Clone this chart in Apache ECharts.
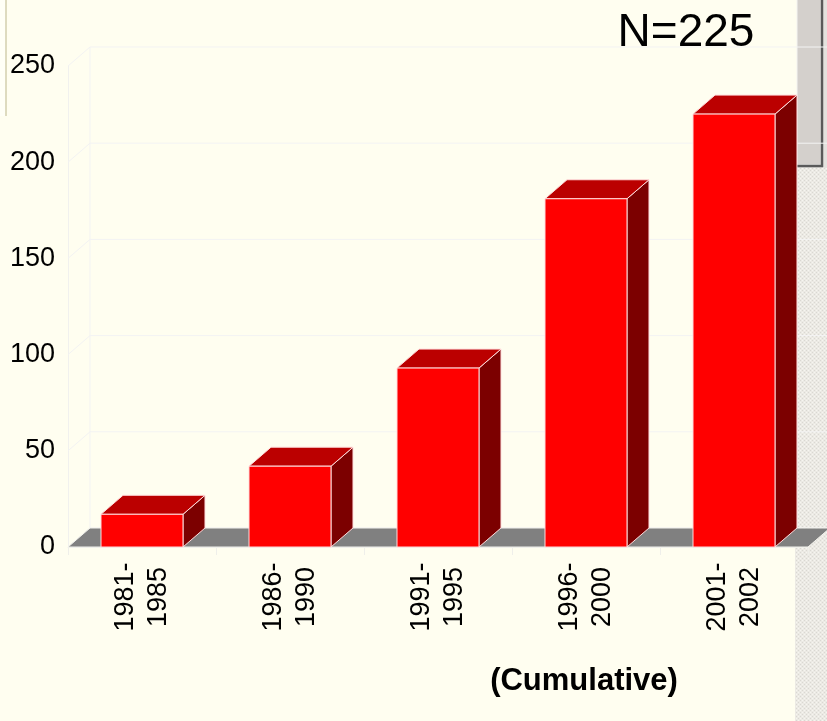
<!DOCTYPE html>
<html>
<head>
<meta charset="utf-8">
<script src="https://cdn.jsdelivr.net/npm/echarts@6/dist/echarts.min.js"></script>
<style>
  html, body { margin: 0; padding: 0; background: #FFFEF0; }
  #chart { width: 827px; height: 721px; }
</style>
</head>
<body>
<div id="chart"></div>
<script>
// Period buckets (two-line labels) and cumulative counts per period
const categories = ['1981-\n1985', '1986-\n1990', '1991-\n1995', '1996-\n2000', '2001-\n2002'];
const counts = [17, 42, 93, 181, 225];
const yTicks = [0, 50, 100, 150, 200, 250];

// 3D depth offset of the back wall (pixels)
const DX = 22, DY = -19;
const BAR_RATIO = 0.554;

const chart = echarts.init(document.getElementById('chart'), null, { renderer: 'canvas' });

// small stipple tile for the side panel
function stipple() {
  const c = document.createElement('canvas');
  c.width = 4; c.height = 4;
  const g = c.getContext('2d');
  g.fillStyle = '#ECEAE4'; g.fillRect(0, 0, 4, 4);
  g.fillStyle = '#DAD8D2';
  g.fillRect(0, 0, 1, 1); g.fillRect(2, 2, 1, 1);
  g.fillStyle = '#F6F5F0';
  g.fillRect(2, 0, 1, 1); g.fillRect(0, 2, 1, 1);
  return c;
}

function bandEdges(api) {
  const bw = api.size([1, 0])[0];
  const first = api.coord([0, 0]);
  const last = api.coord([categories.length - 1, 0]);
  return { bw: bw, x0: first[0] - bw / 2, x1: last[0] + bw / 2, y0: first[1] };
}

const option = {
  backgroundColor: '#FFFEF0',
  animation: false,
  grid: { left: 68, right: 19, top: 66, bottom: 174, containLabel: false },
  xAxis: {
    type: 'category',
    data: categories,
    axisLine: { show: true, lineStyle: { color: '#EFEFEA', width: 1 } },
    axisTick: { show: true, length: 8, lineStyle: { color: '#EFEFEA' } },
    axisLabel: {
      interval: 0,
      rotate: 90,
      align: 'center',
      verticalAlign: 'middle',
      margin: 50,
      color: '#000',
      fontFamily: 'Liberation Sans, Arial, sans-serif',
      fontSize: 27,
      lineHeight: 33
    }
  },
  yAxis: {
    type: 'value',
    min: 0,
    max: 250,
    interval: 50,
    axisLine: { show: true, lineStyle: { color: '#F1F1EE', width: 1 } },
    axisTick: { show: false },
    splitLine: { show: false },
    axisLabel: {
      margin: 13,
      color: '#000',
      fontFamily: 'Liberation Sans, Arial, sans-serif',
      fontSize: 27
    }
  },
  graphic: [
    // left edge frame
    { type: 'rect', z: 0, shape: { x: -2, y: -2, width: 8, height: 118 },
      style: { fill: '#FFFFF6' } },
    { type: 'line', z: 0, shape: { x1: 6, y1: 0, x2: 6, y2: 116 },
      style: { stroke: '#D3CFAE', lineWidth: 1.5 } },
    // right side panel: button block and stippled strip
    { type: 'rect', z: 0, shape: { x: 795, y: 167, width: 40, height: 560 },
      style: { fill: { image: stipple(), repeat: 'repeat' } } },
    { type: 'rect', z: 0, shape: { x: 797, y: -2, width: 30, height: 170 },
      style: { fill: '#E4E2DE' } },
    { type: 'rect', z: 0, shape: { x: 797, y: -2, width: 24, height: 167 },
      style: { fill: '#D4D0CC', stroke: '#F4F4F2', lineWidth: 1 } },
    { type: 'line', z: 0, shape: { x1: 822, y1: -2, x2: 822, y2: 167 },
      style: { stroke: '#5A5A5A', lineWidth: 2.5 } },
    { type: 'line', z: 0, shape: { x1: 797, y1: 166, x2: 823, y2: 166 },
      style: { stroke: '#5A5A5A', lineWidth: 2.5 } },
    // headline count and footnote
    { type: 'text', z: 10, x: 686, y: 33,
      style: { text: 'N=' + counts[counts.length - 1], fill: '#000',
        font: '46px "Liberation Sans", Arial, sans-serif', align: 'center', verticalAlign: 'middle' } },
    { type: 'text', z: 10, x: 584, y: 681,
      style: { text: '(Cumulative)', fill: '#000',
        font: 'bold 31px "Liberation Sans", Arial, sans-serif', align: 'center', verticalAlign: 'middle' } }
  ],
  series: [
    {
      // back wall gridlines with their diagonal leaders to the front axis
      type: 'custom',
      z: 1,
      silent: true,
      data: yTicks.map(function (v) { return [0, v]; }),
      renderItem: function (params, api) {
        const e = bandEdges(api);
        const y = api.coord([0, api.value(1)])[1];
        const children = [{
          type: 'polyline',
          shape: { points: [[e.x0, y], [e.x0 + DX, y + DY], [api.getWidth() + 5, y + DY]] },
          style: { stroke: '#F3F3F3', lineWidth: 1, fill: null }
        }];
        if (params.dataIndex === 0) {
          const yTop = api.coord([0, yTicks[yTicks.length - 1]])[1];
          children.push({
            type: 'line',
            shape: { x1: e.x0 + DX, y1: e.y0 + DY, x2: e.x0 + DX, y2: yTop + DY },
            style: { stroke: '#F3F3F3', lineWidth: 1 }
          });
        }
        return { type: 'group', children: children };
      }
    },
    {
      // grey floor slab
      type: 'custom',
      z: 2,
      silent: true,
      data: [[0, 0]],
      renderItem: function (params, api) {
        const e = bandEdges(api);
        return {
          type: 'polygon',
          shape: { points: [[e.x0, e.y0], [e.x1, e.y0], [e.x1 + DX, e.y0 + DY], [e.x0 + DX, e.y0 + DY]] },
          style: { fill: '#808080', stroke: '#F2F2EC', lineWidth: 1 }
        };
      }
    },
    {
      // 3D boxes: front, top and right faces
      type: 'custom',
      z: 3,
      data: counts.map(function (v, i) { return [i, v]; }),
      renderItem: function (params, api) {
        const base = api.coord([api.value(0), 0]);
        const top = api.coord([api.value(0), api.value(1)]);
        const w = api.size([1, 0])[0] * BAR_RATIO;
        const l = base[0] - w / 2, r = base[0] + w / 2;
        const yb = base[1], yt = top[1];
        const edge = { stroke: '#FFDCDC', lineWidth: 1 };
        return {
          type: 'group',
          children: [
            { type: 'polygon',
              shape: { points: [[r, yb], [r + DX, yb + DY], [r + DX, yt + DY], [r, yt]] },
              style: Object.assign({ fill: '#7C0000' }, edge) },
            { type: 'polygon',
              shape: { points: [[l, yt], [r, yt], [r + DX, yt + DY], [l + DX, yt + DY]] },
              style: Object.assign({ fill: '#BB0000' }, edge) },
            { type: 'rect',
              shape: { x: l, y: yt, width: w, height: yb - yt },
              style: Object.assign({ fill: '#FF0000' }, edge) }
          ]
        };
      }
    }
  ]
};

chart.setOption(option);
</script>
</body>
</html>
